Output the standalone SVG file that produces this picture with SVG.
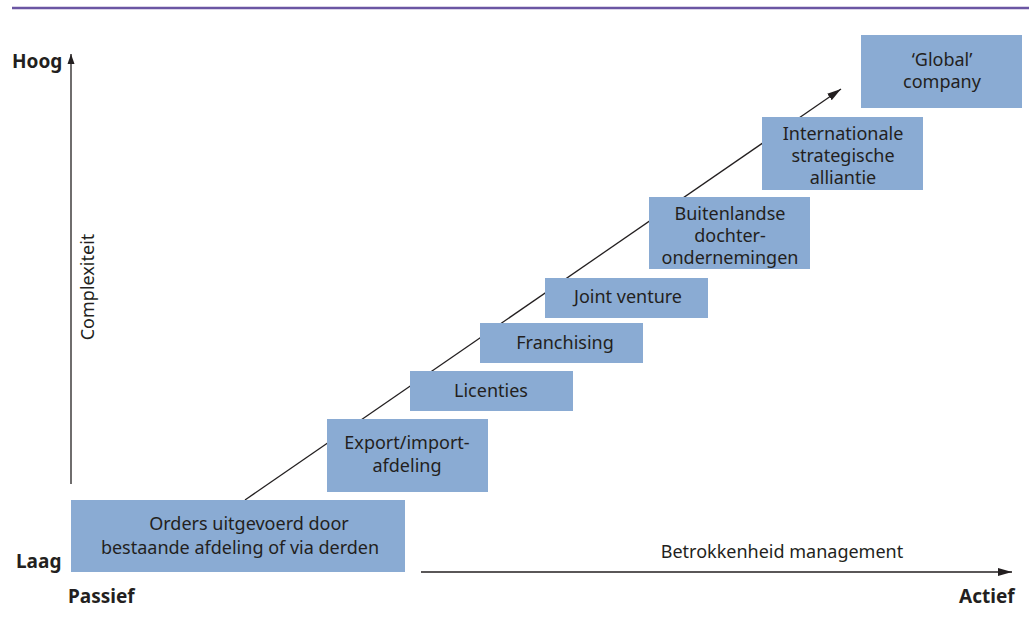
<svg xmlns="http://www.w3.org/2000/svg" width="1029" height="629" viewBox="0 0 1029 629">
<style>
.box{fill:#8aabd3}
.t{font-family:"Noto Sans","Liberation Sans",sans-serif;font-size:18px;fill:#231f20;text-anchor:middle}
.b{font-family:"Noto Sans","Liberation Sans",sans-serif;font-size:19px;font-weight:bold;fill:#231f20}
.ax{stroke:#231f20;stroke-width:1.3;fill:none}
</style>
<defs>
<marker id="ah" viewBox="0 0 10 10" refX="10" refY="5" markerWidth="10" markerHeight="10" markerUnits="userSpaceOnUse" orient="auto">
<path d="M0,1.5 L10,5 L0,8.5 Z" fill="#231f20"/>
</marker>
<marker id="ah2" viewBox="0 0 14 10" refX="14" refY="5" markerWidth="14" markerHeight="10" markerUnits="userSpaceOnUse" orient="auto">
<path d="M0,1 L14,5 L0,9 Z" fill="#231f20"/>
</marker>
</defs>
<line x1="12" y1="8" x2="1029" y2="8" stroke="#6b56a3" stroke-width="2.5"/>
<g id="connectors">
<line class="ax" x1="71" y1="484" x2="71" y2="54" marker-end="url(#ah)"/>
<line class="ax" x1="421" y1="572" x2="1012" y2="572" marker-end="url(#ah2)"/>
<line class="ax" x1="245" y1="500" x2="841" y2="89" marker-end="url(#ah2)"/>
</g>
<g id="labels">
<text class="b" x="12" y="68">Hoog</text>
<text class="b" x="16" y="568">Laag</text>
<text class="b" x="68" y="603">Passief</text>
<text class="b" x="959" y="603">Actief</text>
<text class="t" x="782" y="558">Betrokkenheid management</text>
<text class="t" transform="translate(94,287) rotate(-90)">Complexiteit</text>
</g>
<g id="n1"><rect class="box" x="71" y="500" width="334" height="72"/><text class="t" x="249" y="530">Orders uitgevoerd door</text><text class="t" x="240" y="554">bestaande afdeling of via derden</text></g>
<g id="n2"><rect class="box" x="327" y="419" width="161" height="73"/><text class="t" x="407" y="449">Export/import-</text><text class="t" x="407" y="472">afdeling</text></g>
<g id="n3"><rect class="box" x="410" y="371" width="163" height="40"/><text class="t" x="491" y="397">Licenties</text></g>
<g id="n4"><rect class="box" x="480" y="323" width="163" height="40"/><text class="t" x="565" y="349">Franchising</text></g>
<g id="n5"><rect class="box" x="545" y="278" width="163" height="40"/><text class="t" x="628" y="303">Joint venture</text></g>
<g id="n6"><rect class="box" x="649" y="197" width="161" height="72"/><text class="t" x="730" y="220">Buitenlandse</text><text class="t" x="730" y="242">dochter-</text><text class="t" x="730" y="264">ondernemingen</text></g>
<g id="n7"><rect class="box" x="762" y="117" width="161" height="73"/><text class="t" x="843" y="140">Internationale</text><text class="t" x="843" y="162">strategische</text><text class="t" x="843" y="184">alliantie</text></g>
<g id="n8"><rect class="box" x="861" y="35" width="161" height="73"/><text class="t" x="942" y="66">‘Global’</text><text class="t" x="942" y="88">company</text></g>
</svg>
